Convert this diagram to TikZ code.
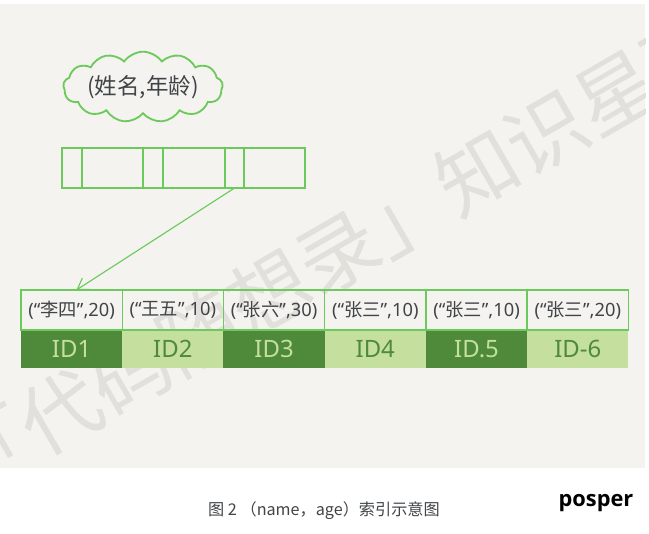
\documentclass[tikz,border=0pt]{standalone}
\usepackage{fontspec}
\setmainfont{Noto Sans}
\newfontfamily\cjk{Noto Sans CJK SC}
\newfontfamily\brandfont{Open Sans}
\usetikzlibrary{positioning,shapes.symbols,arrows.meta}

\definecolor{paper}{HTML}{F4F3EF}
\definecolor{linegreen}{HTML}{6CC95C}
\definecolor{darkgreen}{HTML}{4F8A3B}
\definecolor{lightgreen}{HTML}{C4DF9E}
\definecolor{inkgray}{HTML}{404447}
\definecolor{wmgray}{HTML}{E2E0DB}

\tikzset{
  keycell/.style={draw=linegreen, line width=1.2pt, minimum height=1cm, inner sep=0pt, outer sep=0pt},
  rowcell/.style={draw=linegreen, line width=1pt, minimum width=2.53cm, minimum height=1cm,
    inner sep=0pt, outer sep=0pt, text=inkgray, font=\fontsize{13}{13}\selectfont},
  iddark/.style={fill=darkgreen, text=lightgreen, minimum width=2.53cm, minimum height=0.95cm,
    inner sep=0pt, outer sep=0pt, font=\fontsize{17}{17}\selectfont},
  idlight/.style={iddark, fill=lightgreen, text=darkgreen},
  pointer/.style={draw=linegreen, line width=0.8pt, -{Straight Barb[length=2.6mm, width=3.4mm]}},
}
\newcommand{\entry}[2]{(\textquotedblleft{\cjk #1}\textquotedblright,#2)}

\begin{document}
\begin{tikzpicture}[x=0.025cm, y=-0.025cm]
  \useasboundingbox (0,0) rectangle (649,533);

  % Paper background and watermark
  \fill[paper] (0,4) rectangle (645,468);
  \begin{scope}
    \clip (0,4) rectangle (645,468);
    \node[rotate=30, text=wmgray, font=\cjk\fontsize{57}{57}\selectfont] (mark) at (338,252) {「代码随想录」知识星球};
  \end{scope}

  % Cloud with the index columns
  \node[cloud, cloud puffs=13, cloud puff arc=110, aspect=3, draw=linegreen, line width=1.3pt, fill=paper,
        minimum width=3.8cm, minimum height=1.3cm, inner sep=0pt, text=inkgray,
        font=\cjk\fontsize{16}{16}\selectfont] (cols) at (143,87) {(姓名,年龄)};

  % Index page (key / pointer pairs)
  \node[keycell, minimum width=0.5cm, anchor=north west] (k1) at (62,148) {};
  \node[keycell, minimum width=1.525cm, right=0pt of k1] (k2) {};
  \node[keycell, minimum width=0.5cm, right=0pt of k2] (k3) {};
  \node[keycell, minimum width=1.55cm, right=0pt of k3] (k4) {};
  \node[keycell, minimum width=0.475cm, right=0pt of k4] (k5) {};
  \node[keycell, minimum width=1.525cm, right=0pt of k5] (k6) {};

  % ID row
  \node[iddark, anchor=north west] (i1) at (21,330) {ID1};
  \node[idlight, right=0pt of i1] (i2) {ID2};
  \node[iddark, right=0pt of i2] (i3) {ID3};
  \node[idlight, right=0pt of i3] (i4) {ID4};
  \node[iddark, right=0pt of i4] (i5) {ID.5};
  \node[idlight, right=0pt of i5] (i6) {ID-6};

  % Leaf entries
  \node[rowcell, above=0pt of i1] (r1) {\entry{李四}{20}};
  \node[rowcell, above=0pt of i2] (r2) {\entry{王五}{10}};
  \node[rowcell, above=0pt of i3] (r3) {\entry{张六}{30}};
  \node[rowcell, above=0pt of i4] (r4) {\entry{张三}{10}};
  \node[rowcell, above=0pt of i5] (r5) {\entry{张三}{10}};
  \node[rowcell, above=0pt of i6] (r6) {\entry{张三}{20}};

  % Pointer into the leaf
  \draw[pointer] (k5.south) -- ([xshift=0.12cm]r1.north);

  % Caption
  \node[text=inkgray, font=\cjk\fontsize{11.5}{11.5}\selectfont] (cap) at (324,511) {图 2 （name，age）索引示意图};
  \node[font=\brandfont\bfseries\fontsize{15.5}{15.5}\selectfont] (brand) at (596,503) {posper};
\end{tikzpicture}
\end{document}
